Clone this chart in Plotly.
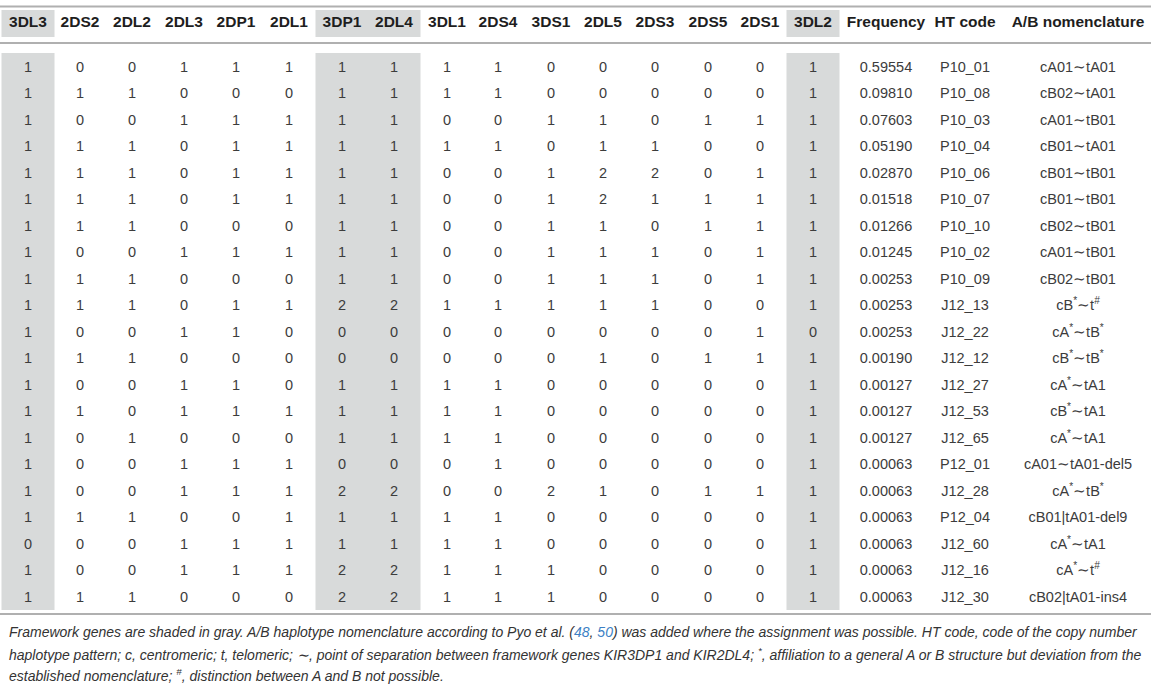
import plotly.graph_objects as go

# table content
genes = ["3DL3", "2DS2", "2DL2", "2DL3", "2DP1", "2DL1", "3DP1", "2DL4",
         "3DL1", "2DS4", "3DS1", "2DL5", "2DS3", "2DS5", "2DS1", "3DL2"]
framework = ["3DL3", "3DP1", "2DL4", "3DL2"]

copy_numbers = [
    [1, 0, 0, 1, 1, 1, 1, 1, 1, 1, 0, 0, 0, 0, 0, 1],
    [1, 1, 1, 0, 0, 0, 1, 1, 1, 1, 0, 0, 0, 0, 0, 1],
    [1, 0, 0, 1, 1, 1, 1, 1, 0, 0, 1, 1, 0, 1, 1, 1],
    [1, 1, 1, 0, 1, 1, 1, 1, 1, 1, 0, 1, 1, 0, 0, 1],
    [1, 1, 1, 0, 1, 1, 1, 1, 0, 0, 1, 2, 2, 0, 1, 1],
    [1, 1, 1, 0, 1, 1, 1, 1, 0, 0, 1, 2, 1, 1, 1, 1],
    [1, 1, 1, 0, 0, 0, 1, 1, 0, 0, 1, 1, 0, 1, 1, 1],
    [1, 0, 0, 1, 1, 1, 1, 1, 0, 0, 1, 1, 1, 0, 1, 1],
    [1, 1, 1, 0, 0, 0, 1, 1, 0, 0, 1, 1, 1, 0, 1, 1],
    [1, 1, 1, 0, 1, 1, 2, 2, 1, 1, 1, 1, 1, 0, 0, 1],
    [1, 0, 0, 1, 1, 0, 0, 0, 0, 0, 0, 0, 0, 0, 1, 0],
    [1, 1, 1, 0, 0, 0, 0, 0, 0, 0, 0, 1, 0, 1, 1, 1],
    [1, 0, 0, 1, 1, 0, 1, 1, 1, 1, 0, 0, 0, 0, 0, 1],
    [1, 1, 0, 1, 1, 1, 1, 1, 1, 1, 0, 0, 0, 0, 0, 1],
    [1, 0, 1, 0, 0, 0, 1, 1, 1, 1, 0, 0, 0, 0, 0, 1],
    [1, 0, 0, 1, 1, 1, 0, 0, 0, 1, 0, 0, 0, 0, 0, 1],
    [1, 0, 0, 1, 1, 1, 2, 2, 0, 0, 2, 1, 0, 1, 1, 1],
    [1, 1, 1, 0, 0, 1, 1, 1, 1, 1, 0, 0, 0, 0, 0, 1],
    [0, 0, 0, 1, 1, 1, 1, 1, 1, 1, 0, 0, 0, 0, 0, 1],
    [1, 0, 0, 1, 1, 1, 2, 2, 1, 1, 1, 0, 0, 0, 0, 1],
    [1, 1, 1, 0, 0, 0, 2, 2, 1, 1, 1, 0, 0, 0, 0, 1],
]

frequency = ["0.59554", "0.09810", "0.07603", "0.05190", "0.02870", "0.01518",
             "0.01266", "0.01245", "0.00253", "0.00253", "0.00253", "0.00190",
             "0.00127", "0.00127", "0.00127", "0.00063", "0.00063", "0.00063",
             "0.00063", "0.00063", "0.00063"]

ht_code = ["P10_01", "P10_08", "P10_03", "P10_04", "P10_06", "P10_07", "P10_10",
           "P10_02", "P10_09", "J12_13", "J12_22", "J12_12", "J12_27", "J12_53",
           "J12_65", "P12_01", "J12_28", "P12_04", "J12_60", "J12_16", "J12_30"]

ab_name = ["cA01∼tA01", "cB02∼tA01", "cA01∼tB01", "cB01∼tA01", "cB01∼tB01",
           "cB01∼tB01", "cB02∼tB01", "cA01∼tB01", "cB02∼tB01",
           "cB<sup>*</sup>∼t<sup>#</sup>", "cA<sup>*</sup>∼tB<sup>*</sup>",
           "cB<sup>*</sup>∼tB<sup>*</sup>", "cA<sup>*</sup>∼tA1",
           "cB<sup>*</sup>∼tA1", "cA<sup>*</sup>∼tA1", "cA01∼tA01-del5",
           "cA<sup>*</sup>∼tB<sup>*</sup>", "cB01|tA01-del9", "cA<sup>*</sup>∼tA1",
           "cA<sup>*</sup>∼t<sup>#</sup>", "cB02|tA01-ins4"]

extra_cols = ["Frequency", "HT code", "A/B nomenclature"]

caption = [
    "Framework genes are shaded in gray. A/B haplotype nomenclature according to Pyo et al. "
    "(<span style='color:#3d7fc4'>48</span>, <span style='color:#3d7fc4'>50</span>) "
    "was added where the assignment was possible. HT code, code of the copy number",
    "haplotype pattern; c, centromeric; t, telomeric; ∼, point of separation between framework "
    "genes KIR3DP1 and KIR2DL4; <sup>*</sup>, affiliation to a general A or B structure but "
    "deviation from the",
    "established nomenclature; <sup>#</sup>, distinction between A and B not possible.",
]

# layout (pixels)
W, H = 1151, 684
col_x = [28, 80, 132, 184, 236, 289, 342, 394, 447, 498, 551, 603, 655, 708, 760, 813]
extra_x = [886, 965, 1078]
head_y = 23
row_y0, row_step = 68, 26.5
shade = "#d8dada"
rule = "#b0b0b0"
font_tab = "Liberation Sans, Arial, sans-serif"

fig = go.Figure()

# gray framework columns
for g in framework:
    cx = col_x[genes.index(g)]
    x0, x1 = max(cx - 26.5, 0), cx + 26.5
    fig.add_shape(type="rect", x0=x0, x1=x1, y0=10, y1=37,
                  fillcolor=shade, line_width=0, layer="below")
    fig.add_shape(type="rect", x0=x0, x1=x1, y0=53, y1=610,
                  fillcolor=shade, line_width=0, layer="below")

# horizontal rules (paper coordinates, 0 at the bottom)
for yy in [6.5, 43, 614]:
    fig.add_shape(type="line", xref="paper", yref="paper",
                  x0=0, x1=1, y0=1 - yy / H, y1=1 - yy / H,
                  line=dict(color=rule, width=2.2))

# header
fig.add_trace(go.Scatter(
    x=col_x + extra_x, y=[head_y] * (len(genes) + 3),
    text=["<b>%s</b>" % t for t in genes + extra_cols],
    mode="text", textposition="middle center", hoverinfo="skip",
    textfont=dict(family=font_tab, size=15.5, color="#1e1e1e")))

# body
xs, ys, ts = [], [], []
for i, row in enumerate(copy_numbers):
    y = row_y0 + i * row_step
    for j, v in enumerate(row):
        xs.append(col_x[j]); ys.append(y); ts.append(str(v))
    for k, t in enumerate([frequency[i], ht_code[i], ab_name[i]]):
        xs.append(extra_x[k]); ys.append(y); ts.append(t)

fig.add_trace(go.Scatter(
    x=xs, y=ys, text=ts, mode="text", textposition="middle center",
    hoverinfo="skip",
    textfont=dict(family=font_tab, size=14.5, color="#3c3c3c")))

# caption
for k, line in enumerate(caption):
    fig.add_annotation(x=7, y=632 + k * 21.5, xref="x", yref="y",
                       text="<i>%s</i>" % line, showarrow=False,
                       xanchor="left", yanchor="middle",
                       font=dict(family="Liberation Sans, sans-serif",
                                 size=14, color="#333333"))

fig.update_xaxes(range=[0, W], visible=False, fixedrange=True)
fig.update_yaxes(range=[H, 0], visible=False, fixedrange=True)
fig.update_layout(width=W, height=H, margin=dict(l=0, r=0, t=0, b=0),
                  plot_bgcolor="white", paper_bgcolor="white", showlegend=False)

fig.write_html("out.html", config={"staticPlot": True},
               post_script="document.body.style.margin='0';"
                           "document.body.style.overflow='hidden';")
